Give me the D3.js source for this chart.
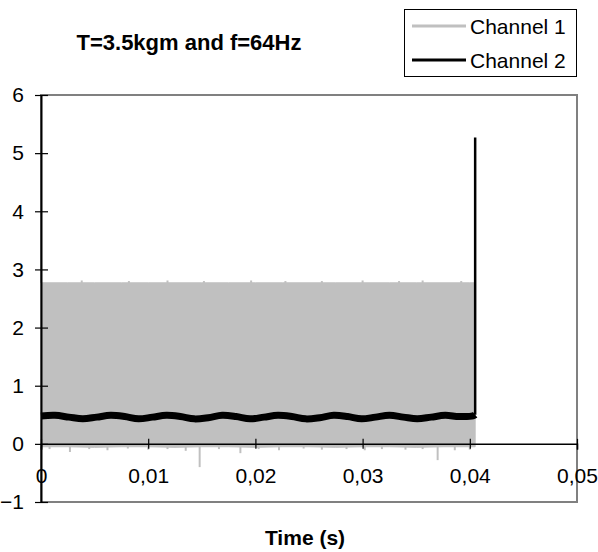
<!DOCTYPE html>
<html><head><meta charset="utf-8">
<script src="https://cdn.jsdelivr.net/npm/d3@7"></script>
<style>
body{margin:0;background:#fff;}
svg text{font-family:"Liberation Sans",Arial,sans-serif;}
</style></head>
<body><svg id="c" width="598" height="552"></svg>
<script>
// ---- data ----
const title = "T=3.5kgm and f=64Hz";
const xLabel = "Time (s)";
const seriesNames = ["Channel 1", "Channel 2"];
const xTicks = [0, 0.01, 0.02, 0.03, 0.04, 0.05];
const xTickLabels = ["0", "0,01", "0,02", "0,03", "0,04", "0,05"];
const yTicks = [-1, 0, 1, 2, 3, 4, 5, 6];

// Channel 1: fast oscillation, read as upper / lower envelope
const ch1Time = [0, 0.0025, 0.005, 0.0075, 0.01, 0.0125, 0.015, 0.0175, 0.02, 0.0225, 0.025, 0.0275, 0.03, 0.0325, 0.035, 0.0375, 0.04, 0.0405];
const ch1High = [2.77, 2.77, 2.77, 2.77, 2.77, 2.77, 2.77, 2.77, 2.77, 2.77, 2.77, 2.77, 2.77, 2.77, 2.77, 2.77, 2.77, 2.77];
const ch1Low  = [-0.05, -0.05, -0.06, -0.05, -0.05, -0.06, -0.05, -0.05, -0.06, -0.05, -0.05, -0.06, -0.05, -0.05, -0.06, -0.05, -0.05, -0.05];
// Channel 1 isolated extremes
const ch1DipTime  = [0.0008, 0.0027, 0.0045, 0.0062, 0.0081, 0.0100, 0.0118, 0.0135, 0.0148, 0.0166, 0.0186, 0.0203, 0.0222, 0.0245, 0.0262, 0.0285, 0.0302, 0.0318, 0.0340, 0.0356, 0.0370, 0.0386, 0.0400];
const ch1DipValue = [-0.09, -0.14, -0.09, -0.11, -0.08, -0.10, -0.09, -0.12, -0.40, -0.09, -0.16, -0.09, -0.11, -0.08, -0.10, -0.09, -0.11, -0.09, -0.10, -0.09, -0.28, -0.11, -0.10];
const ch1PeakTime  = [0.0038, 0.0082, 0.0118, 0.0152, 0.0196, 0.0228, 0.0262, 0.0300, 0.0334, 0.0356, 0.0392];
const ch1PeakValue = [2.81, 2.80, 2.81, 2.80, 2.81, 2.80, 2.80, 2.81, 2.80, 2.81, 2.80];

// Channel 2: slow ripple around 0.47 then jump at the end
const ch2Time = [0, 0.0013, 0.0026, 0.0039, 0.0052, 0.0065, 0.0078, 0.0091, 0.0104, 0.0117, 0.0130, 0.0143, 0.0156, 0.0169, 0.0182, 0.0195, 0.0208, 0.0221, 0.0234, 0.0247, 0.0260, 0.0273, 0.0286, 0.0299, 0.0312, 0.0325, 0.0338, 0.0351, 0.0364, 0.0377, 0.0390, 0.0403, 0.0405, 0.0405];
const ch2Value = [0.48, 0.49, 0.46, 0.43, 0.46, 0.49, 0.47, 0.43, 0.46, 0.49, 0.47, 0.43, 0.45, 0.49, 0.47, 0.43, 0.46, 0.49, 0.47, 0.43, 0.45, 0.49, 0.47, 0.43, 0.46, 0.49, 0.46, 0.43, 0.46, 0.49, 0.47, 0.48, 0.50, 5.27];

// ---- chart ----
const svg = d3.select("#c");
const pL = 41, pR = 577, pT = 95, pB = 502;
const x = d3.scaleLinear().domain([0, 0.05]).range([pL, pR]);
const y = d3.scaleLinear().domain([-1, 6]).range([pB, pT]);
const gray = "#c0c0c0";
const FONT = '"Liberation Sans",Arial,sans-serif';

// plot frame (gray)
svg.append("rect").attr("x", pL).attr("y", pT).attr("width", pR - pL).attr("height", pB - pT)
  .attr("fill", "none").attr("stroke", "#808080").attr("stroke-width", 2);

// Channel 1 band
const band = ch1Time.map((t, i) => ({t, hi: ch1High[i], lo: ch1Low[i]}));
svg.append("path").datum(band)
  .attr("d", d3.area().x(d => x(d.t)).y0(d => y(d.lo)).y1(d => y(d.hi)))
  .attr("fill", gray).attr("stroke", gray).attr("stroke-width", 1);
svg.append("g").selectAll("line").data(ch1DipTime.map((t, i) => ({t, v: ch1DipValue[i]}))).join("line")
  .attr("x1", d => x(d.t)).attr("x2", d => x(d.t)).attr("y1", y(0)).attr("y2", d => y(d.v))
  .attr("stroke", gray).attr("stroke-width", 2);
svg.append("g").selectAll("line").data(ch1PeakTime.map((t, i) => ({t, v: ch1PeakValue[i]}))).join("line")
  .attr("x1", d => x(d.t)).attr("x2", d => x(d.t)).attr("y1", y(2.7)).attr("y2", d => y(d.v))
  .attr("stroke", gray).attr("stroke-width", 2);

// Channel 2
const ch2 = ch2Time.map((t, i) => ({t, v: ch2Value[i]}));
const line = d3.line().x(d => x(d.t)).y(d => y(d.v)).curve(d3.curveCatmullRom);
svg.append("path").datum(ch2.slice(0, ch2.length - 1))
  .attr("d", line).attr("fill", "none").attr("stroke", "#000").attr("stroke-width", 7).attr("stroke-linejoin", "round");
svg.append("path").datum(ch2.slice(ch2.length - 2))
  .attr("d", d3.line().x(d => x(d.t)).y(d => y(d.v))).attr("fill", "none").attr("stroke", "#000").attr("stroke-width", 2.5);

// axes
const yAxis = svg.append("g").attr("transform", `translate(${pL},0)`)
  .call(d3.axisLeft(y).tickValues(yTicks).tickSizeOuter(0).tickSizeInner(6).tickPadding(11).tickFormat(d3.format("d")));
yAxis.selectAll(".tick line").attr("x2", 7).attr("x1", -6);
const xAxis = svg.append("g").attr("transform", `translate(0,${y(0)})`)
  .call(d3.axisBottom(x).tickValues(xTicks).tickSizeOuter(0).tickSize(6).tickPadding(18).tickFormat((d, i) => xTickLabels[i]));
xAxis.selectAll(".tick line").attr("y1", -5).attr("y2", 5);
[yAxis, xAxis].forEach(g => {
  g.attr("font-family", FONT).attr("font-size", 21);
  g.select(".domain").attr("stroke", "#000").attr("stroke-width", 1.5);
  g.selectAll(".tick line").attr("stroke", "#000").attr("stroke-width", 1.2);
  g.selectAll(".tick text").attr("fill", "#000").style("font-size", "21px").style("font-family", FONT);
});
yAxis.select(".domain").attr("stroke-width", 2);

// title
svg.append("text").attr("x", 189).attr("y", 50).attr("text-anchor", "middle")
  .style("font-size", "22px").style("font-weight", "bold").text(title);
svg.append("text").attr("x", 305).attr("y", 545).attr("text-anchor", "middle")
  .style("font-size", "21px").style("font-weight", "bold").text(xLabel);

// legend
const lg = svg.append("g");
lg.append("rect").attr("x", 404.5).attr("y", 9.5).attr("width", 172).attr("height", 67)
  .attr("fill", "#fff").attr("stroke", "#000").attr("stroke-width", 1);
const legColors = [gray, "#000"];
seriesNames.forEach((n, i) => {
  const yy = 26 + i * 34;
  lg.append("line").attr("x1", 412).attr("x2", 466).attr("y1", yy).attr("y2", yy)
    .attr("stroke", legColors[i]).attr("stroke-width", 3);
  lg.append("text").attr("x", 470).attr("y", yy + 8).style("font-size", "21px").text(n);
});
</script></body></html>
